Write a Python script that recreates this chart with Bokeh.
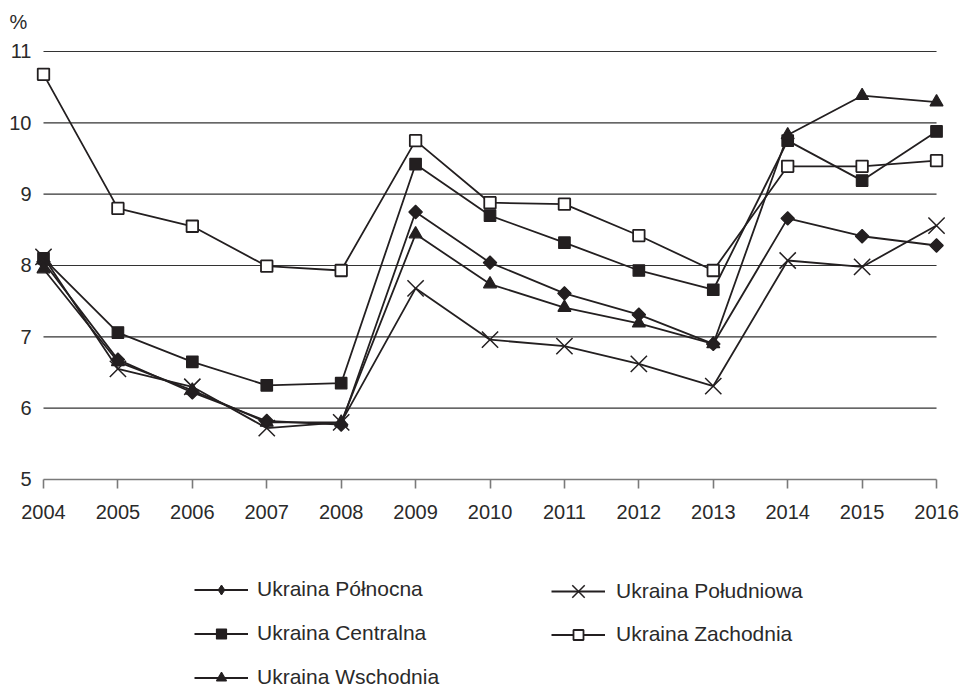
import numpy as np
from bokeh.plotting import figure
from bokeh.models import Range1d, FixedTicker, Legend, LegendItem, LinearAxis
from bokeh.embed import file_html
from bokeh.resources import INLINE

years = [2004, 2005, 2006, 2007, 2008, 2009, 2010, 2011, 2012, 2013, 2014, 2015, 2016]
polnocna = [8.05, 6.68, 6.22, 5.82, 5.77, 8.75, 8.04, 7.61, 7.31, 6.90, 8.66, 8.41, 8.28]
centralna = [8.10, 7.06, 6.65, 6.32, 6.35, 9.42, 8.70, 8.32, 7.93, 7.66, 9.75, 9.19, 9.88]
wschodnia = [7.95, 6.65, 6.25, 5.80, 5.80, 8.44, 7.74, 7.41, 7.19, 6.90, 9.83, 10.38, 10.29]
poludniowa = [8.12, 6.55, 6.30, 5.72, 5.80, 7.68, 6.96, 6.87, 6.62, 6.31, 8.07, 7.98, 8.56]
zachodnia = [10.68, 8.80, 8.55, 7.99, 7.93, 9.75, 8.88, 8.86, 8.42, 7.93, 9.39, 9.39, 9.47]
y_ticks = [5, 6, 7, 8, 9, 10, 11]
names = ["Ukraina Północna", "Ukraina Centralna", "Ukraina Wschodnia",
         "Ukraina Południowa", "Ukraina Zachodnia"]

FONT = "Liberation Sans"
INK = "#231f20"
TXT = "#2a2a2a"

# the frame covers the whole page below the "%" title; axes are pinned inside it
p = figure(width=962, height=687,
           x_range=Range1d(2003.4222, 2016.349), y_range=Range1d(2.084, 11.154),
           output_backend="svg", toolbar_location=None,
           x_axis_location=None, y_axis_location=None,
           min_border_left=0, min_border_right=0, min_border_top=40, min_border_bottom=0)
p.outline_line_color = None
p.xgrid.visible = False
p.ygrid.visible = False

# horizontal grid lines from first to last year
gl = y_ticks[1:]
p.segment(x0=[years[0]] * len(gl), x1=[years[-1]] * len(gl), y0=gl, y1=gl,
          line_color="#333333", line_width=1.2)

# x axis pinned at y = 5
xa = LinearAxis(fixed_location=y_ticks[0])
xa.ticker = FixedTicker(ticks=years)
xa.bounds = (years[0], years[-1])
xa.axis_line_color = "#7a7a7a"
xa.axis_line_width = 1.6
xa.major_tick_line_color = "#7a7a7a"
xa.major_tick_line_width = 1.6
xa.major_tick_out = 9
xa.major_tick_in = 0
xa.minor_tick_line_color = None
xa.major_label_standoff = 17
xa.major_label_text_font = FONT
xa.major_label_text_font_size = "20px"
xa.major_label_text_color = TXT
p.add_layout(xa, "below")

# y axis pinned at the first year (labels only)
ya = LinearAxis(fixed_location=years[0])
ya.ticker = FixedTicker(ticks=y_ticks)
ya.axis_line_color = None
ya.major_tick_line_color = None
ya.minor_tick_line_color = None
ya.major_tick_out = 0
ya.major_tick_in = 0
ya.major_label_standoff = 12
ya.major_label_text_font = FONT
ya.major_label_text_font_size = "20px"
ya.major_label_text_color = TXT
p.add_layout(ya, "left")

p.title.text = "%"
p.title.align = "left"
p.title.offset = 9
p.title.standoff = 16
p.title.text_font = FONT
p.title.text_font_size = "20px"
p.title.text_font_style = "normal"
p.title.text_color = TXT

LW = 1.8

def series(ys, marker, size, fill, angle=0.0, lw=1.2):
    lr = p.line(years, ys, line_color=INK, line_width=LW)
    sr = p.scatter(years, ys, marker=marker, size=size, angle=angle,
                   line_color=INK, line_width=lw, fill_color=fill)
    return [lr, sr]

# diamond series: a plain diamond (used by the legend) under a rotated square
line_pn = p.line(years, polnocna, line_color=INK, line_width=LW)
dia_pn = p.scatter(years, polnocna, marker="diamond", size=12, line_color=INK,
                   line_width=1.0, fill_color=INK)
p.scatter(years, polnocna, marker="square", size=9.5, angle=np.pi / 4,
          line_color=INK, line_width=1.2, fill_color=INK)
r_pn = [line_pn, dia_pn]

r_ce = series(centralna, "square", 11.5, INK)
r_ws = series(wschodnia, "triangle", 13, INK)
r_pd = series(poludniowa, "x", 23, None, lw=1.5)
r_za = series(zachodnia, "square", 11.5, "white", lw=1.8)

def make_legend(items, loc, standoff, spacing, gh=25):
    lg = Legend(items=items, location=loc, orientation="vertical",
                padding=0, margin=0, spacing=spacing,
                glyph_width=54, glyph_height=gh, label_height=gh,
                label_standoff=standoff, label_text_font=FONT,
                label_text_font_size="21px", label_text_color=TXT,
                border_line_color=None, background_fill_alpha=0)
    p.add_layout(lg, "center")

make_legend([LegendItem(label=names[0], renderers=r_pn),
             LegendItem(label=names[1], renderers=r_ce),
             LegendItem(label=names[2], renderers=r_ws)], (194, -2.5), 9, 19)
make_legend([LegendItem(label=names[3], renderers=r_pd)], (551, 74), 11, 0, gh=44)
make_legend([LegendItem(label=names[4], renderers=r_za)], (551, 40.5), 11, 0)

open("out.html", "w").write(file_html(p, INLINE))
